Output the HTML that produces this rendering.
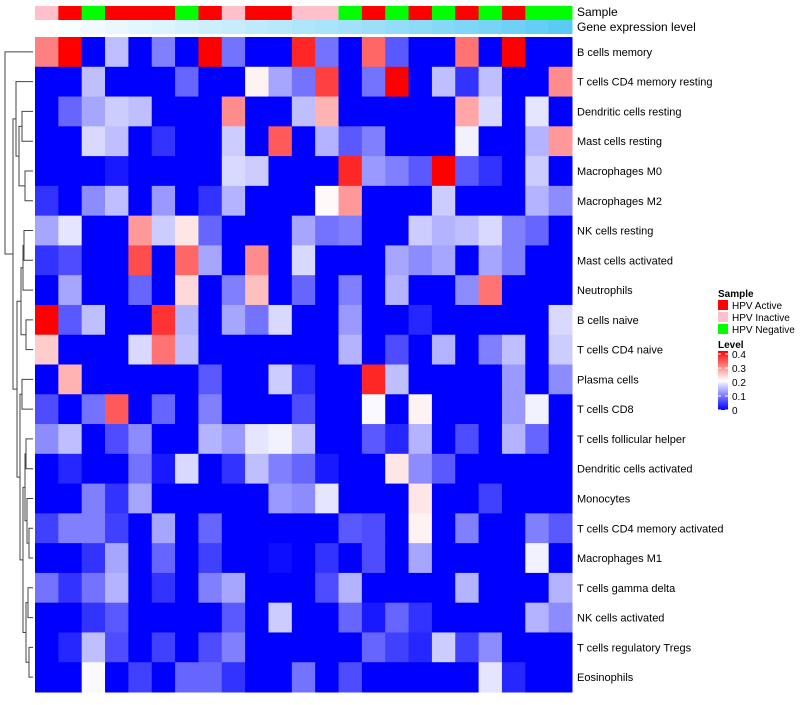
<!DOCTYPE html>
<html><head><meta charset="utf-8"><style>
body{margin:0;background:#fff;}
svg text{font-family:"Liberation Sans",sans-serif;}
</style></head><body>
<svg id="chart" width="800" height="700" xmlns="http://www.w3.org/2000/svg">
<g id="dendro"></g>
<g id="annot"></g>
<g id="cells"></g>
<g id="rowlabels"></g>
<text x="577" y="16" font-size="12">Sample</text>
<text x="577" y="31" font-size="12">Gene expression level</text>
<g>
<text x="718" y="297" font-size="10" font-weight="bold">Sample</text>
<rect x="718" y="300" width="10" height="10" fill="#ff0000"/>
<text x="732" y="309" font-size="10">HPV Active</text>
<rect x="718" y="312" width="10" height="10" fill="#ffc0cb"/>
<text x="732" y="321" font-size="10">HPV Inactive</text>
<rect x="718" y="324" width="10" height="10" fill="#00ff00"/>
<text x="732" y="333" font-size="10">HPV Negative</text>
<text x="718" y="348" font-size="10" font-weight="bold">Level</text>
<defs><linearGradient id="lg" x1="0" y1="1" x2="0" y2="0"><stop offset="0" stop-color="#0000ff"/><stop offset="0.5" stop-color="#ffffff"/><stop offset="1" stop-color="#ff0000"/></linearGradient></defs>
<rect x="718" y="351" width="10" height="59" fill="url(#lg)"/>
<g id="lvlticks"></g>
</g>
</svg>
<script>
const rowNames=["B cells memory","T cells CD4 memory resting","Dendritic cells resting","Mast cells resting","Macrophages M0","Macrophages M2","NK cells resting","Mast cells activated","Neutrophils","B cells naive","T cells CD4 naive","Plasma cells","T cells CD8","T cells follicular helper","Dendritic cells activated","Monocytes","T cells CD4 memory activated","Macrophages M1","T cells gamma delta","NK cells activated","T cells regulatory  Tregs","Eosinophils"];
const sampleGroups=["I","A","N","A","A","A","N","A","I","A","A","I","I","N","A","N","A","N","A","N","A","N","N"];
const geneLevel=[0,0.04,0.08,0.12,0.16,0.2,0.24,0.28,0.32,0.36,0.4,0.44,0.48,0.52,0.56,0.6,0.64,0.68,0.72,0.76,0.8,0.86,0.92];
const levelTicks=[0,0.1,0.2,0.3,0.4];
const r0=[0.3,0.4,0,0.15,0,0.1,0,0.4,0.09,0,0,0.37,0.09,0,0.32,0.07,0,0,0.31,0,0.4,0,0];
const r1=[0,0,0.15,0,0,0,0.08,0,0,0.21,0.13,0.09,0.35,0,0.09,0.4,0,0.15,0.04,0.15,0,0,0.29];
const r2=[0,0.08,0.13,0.16,0.15,0,0,0,0.29,0,0,0.15,0.26,0,0,0,0,0,0.27,0.17,0,0.18,0];
const r3=[0,0,0.17,0.15,0,0.04,0,0,0.16,0,0.33,0,0.14,0.07,0.1,0,0,0,0.19,0,0,0.14,0.28];
const r4=[0,0,0,0.02,0,0,0,0,0.17,0.16,0,0,0,0.37,0.12,0.1,0.07,0.4,0.07,0.04,0,0.16,0];
const r5=[0.04,0,0.11,0.15,0,0.12,0,0.04,0.14,0,0,0,0.205,0.28,0,0,0,0.16,0,0,0,0.14,0.11];
const r6=[0.13,0.18,0,0,0.28,0.16,0.22,0.08,0,0,0,0.13,0.09,0.1,0,0,0.16,0.14,0.15,0.17,0.1,0.08,0];
const r7=[0.04,0.06,0,0,0.34,0,0.32,0.13,0,0.29,0,0.17,0,0,0,0.13,0.11,0.13,0,0.13,0.1,0,0];
const r8=[0,0.13,0,0,0.08,0,0.23,0,0.1,0.25,0,0.08,0,0.1,0,0.14,0,0,0.11,0.31,0,0,0];
const r9=[0.4,0.07,0.15,0,0,0.36,0.14,0,0.13,0.09,0.17,0,0,0.12,0,0,0.03,0,0,0,0,0,0.17];
const r10=[0.24,0,0,0,0.17,0.31,0.15,0,0,0,0,0,0,0.14,0,0.06,0,0.14,0,0.1,0.15,0,0.16];
const r11=[0,0.26,0,0,0,0,0,0.07,0,0,0.16,0.04,0,0,0.37,0.15,0,0,0,0,0.12,0,0.11];
const r12=[0.06,0,0.09,0.33,0,0.08,0,0.1,0,0,0,0.06,0,0,0.195,0,0.21,0,0,0,0.12,0.19,0];
const r13=[0.11,0.15,0,0.06,0.11,0,0,0.14,0.12,0.18,0.19,0.15,0,0,0.07,0.03,0.14,0,0.06,0,0.14,0.08,0];
const r14=[0,0.03,0,0,0.09,0.02,0.17,0,0.04,0.15,0.1,0.08,0.02,0,0,0.22,0.11,0.07,0,0,0,0,0];
const r15=[0,0,0.1,0.04,0.13,0,0,0,0,0,0.12,0.11,0.18,0,0,0,0.22,0,0,0.05,0,0,0];
const r16=[0.05,0.1,0.1,0.05,0,0.13,0,0.08,0,0,0,0,0,0.07,0.06,0,0.21,0,0.1,0,0,0.1,0.07];
const r17=[0,0,0.04,0.13,0,0.08,0,0.05,0,0,0.01,0,0.04,0,0.06,0,0.13,0,0,0,0,0.19,0];
const r18=[0.09,0.04,0.09,0.14,0,0.04,0,0.1,0.13,0,0,0,0.06,0.14,0,0,0,0,0.14,0,0,0,0.14];
const r19=[0,0,0.04,0.07,0,0,0,0,0.07,0,0.16,0,0,0.08,0.02,0.08,0.04,0,0,0,0,0.14,0.11];
const r20=[0,0.03,0.15,0.06,0,0.05,0,0.06,0.1,0,0,0,0,0,0.08,0.05,0.03,0.16,0.05,0.11,0,0,0];
const r21=[0,0,0.195,0,0.05,0,0.08,0.08,0.04,0,0,0.09,0,0.06,0,0,0,0,0,0.18,0.03,0,0];
const values=[r0,r1,r2,r3,r4,r5,r6,r7,r8,r9,r10,r11,r12,r13,r14,r15,r16,r17,r18,r19,r20,r21];

const NS="http://www.w3.org/2000/svg";
const X0=35,X1=572,Y0=37,Y1=692;
const nC=sampleGroups.length,nR=rowNames.length;
const cw=(X1-X0)/nC,rh=(Y1-Y0)/nR;
const xPos=c=>X0+c*cw, yPos=r=>Y0+r*rh;
const vmax=0.4;
function colorOf(v){let t=Math.max(0,Math.min(1,v/vmax));let r,g,b;
 if(t<0.5){const k=t/0.5;r=255*k;g=255*k;b=255;}else{const k=(t-0.5)/0.5;r=255;g=255*(1-k);b=255*(1-k);}
 return `rgb(${Math.round(r)},${Math.round(g)},${Math.round(b)})`;}
function mk(tag,attrs,parent){const e=document.createElementNS(NS,tag);for(const k in attrs)e.setAttribute(k,attrs[k]);parent.appendChild(e);return e;}
const cells=document.getElementById('cells');
for(let r=0;r<nR;r++)for(let c=0;c<nC;c++){
 const e=mk('rect',{x:xPos(c),y:yPos(r),width:cw+0.5,height:rh+0.5,fill:colorOf(values[r][c])},cells);
 
 
}
const rl=document.getElementById('rowlabels');
rowNames.forEach((n,r)=>{const t=mk('text',{x:577,y:yPos(r)+rh/2+4,'font-size':11},rl);t.textContent=n;
 
 });
const an=document.getElementById('annot');
const gc={A:'#ff0000',I:'#ffc0cb',N:'#00ff00'};
sampleGroups.forEach((g,c)=>{const e=mk('rect',{x:xPos(c),y:6,width:cw+0.5,height:14,fill:gc[g]},an);
 
 });
geneLevel.forEach((v,c)=>{const r=Math.round(255-(255-76)*v),g=Math.round(255-(255-198)*v),b=Math.round(255-(255-245)*v);
 const e=mk('rect',{x:xPos(c),y:20,width:cw+0.5,height:14,fill:`rgb(${r},${g},${b})`},an);
 
 });
const lt=document.getElementById('lvlticks');
levelTicks.forEach(v=>{const y=410-v/0.4*56;const t=mk('text',{x:732,y:y+4,'font-size':10},lt);t.textContent=String(v);
 
 
 mk('line',{x1:718,x2:721,y1:y,y2:y,stroke:'#fff'},lt);mk('line',{x1:725,x2:728,y1:y,y2:y,stroke:'#fff'},lt);});
// dendrogram
{
const dg=document.getElementById('dendro');
const L=i=>({y:yPos(i)+rh/2,x:33});
const join=(a,b,x)=>{mk('path',{d:`M${a.x},${a.y}H${x}V${b.y}H${b.x}`,fill:'none',stroke:'#444','stroke-width':1},dg);return {x:x,y:(a.y+b.y)/2};};
const a1=join(L(2),L(3),22), b1=join(L(4),L(5),25); const m1=join(a1,b1,19); const topNode=join(L(1),m1,16);
const c1=join(join(L(6),L(7),24),L(8),23); const c2=join(L(9),L(10),26); const midNode=join(c1,c2,21);
const d1=join(L(11),L(12),22); const d2=join(L(13),L(14),26); const d3=join(L(16),L(17),29);
const d4=join(L(15),d3,27); const d5=join(d2,d4,25); const d6=join(L(18),L(19),28); const d7=join(L(20),L(21),29);
const d8=join(d6,d7,26); const d9=join(d5,d8,23); const d10=join(d1,d9,20);
const e1=join(midNode,d10,17); const e2=join(topNode,e1,13); join(L(0),e2,5);
}
</script>
</body></html>
